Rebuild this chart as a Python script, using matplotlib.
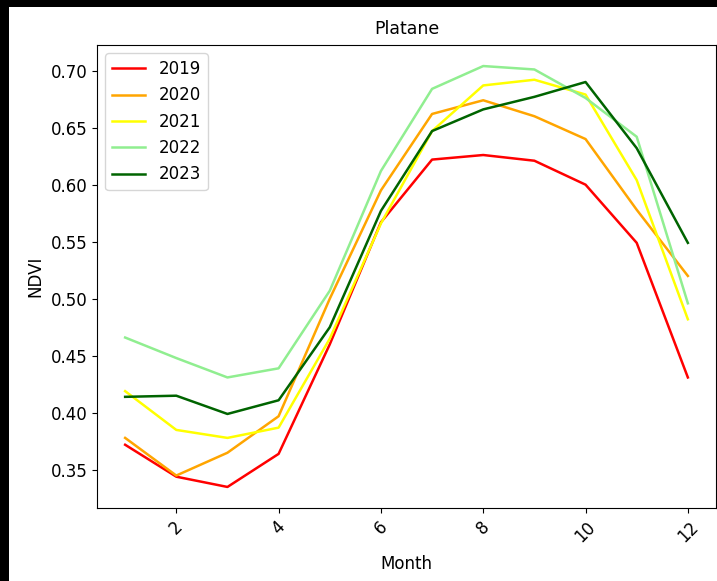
import matplotlib
matplotlib.use("Agg")
import matplotlib.pyplot as plt
from matplotlib.patches import Rectangle

# NDVI per month for each year
months = list(range(1, 13))
ndvi_2019 = [0.372, 0.344, 0.335, 0.364, 0.460, 0.567, 0.622, 0.626, 0.621, 0.600, 0.549, 0.431]
ndvi_2020 = [0.378, 0.345, 0.365, 0.397, 0.500, 0.595, 0.662, 0.674, 0.660, 0.640, 0.578, 0.520]
ndvi_2021 = [0.419, 0.385, 0.378, 0.387, 0.465, 0.566, 0.647, 0.687, 0.692, 0.679, 0.604, 0.482]
ndvi_2022 = [0.466, 0.448, 0.431, 0.439, 0.507, 0.612, 0.684, 0.704, 0.701, 0.676, 0.642, 0.496]
ndvi_2023 = [0.414, 0.415, 0.399, 0.411, 0.475, 0.577, 0.647, 0.666, 0.677, 0.690, 0.632, 0.549]

years = ["2019", "2020", "2021", "2022", "2023"]
series = [ndvi_2019, ndvi_2020, ndvi_2021, ndvi_2022, ndvi_2023]
colors = ["red", "orange", "yellow", "lightgreen", "darkgreen"]

plt.rcParams["font.size"] = 12

fig = plt.figure(figsize=(7.17, 5.81), dpi=100, facecolor="black")
# white page inside the black screenshot border
fig.patches.append(Rectangle((9 / 717, 0), 1, 1 - 7 / 581, transform=fig.transFigure,
                             facecolor="white", edgecolor="none", zorder=-1))

ax = fig.add_axes([97 / 717, 1 - 508 / 581, (716 - 97) / 717, (508 - 45) / 581])
for year, vals, c in zip(years, series, colors):
    ax.plot(months, vals, color=c, label=year, linewidth=1.8)

ax.set_title("Platane", fontsize=12.5, pad=8)
ax.set_xlabel("Month", labelpad=7)
ax.set_ylabel("NDVI")
ax.tick_params(axis="x", rotation=45)
ax.legend(loc="upper left")

fig.savefig("out.png", dpi=100, facecolor=fig.get_facecolor())
